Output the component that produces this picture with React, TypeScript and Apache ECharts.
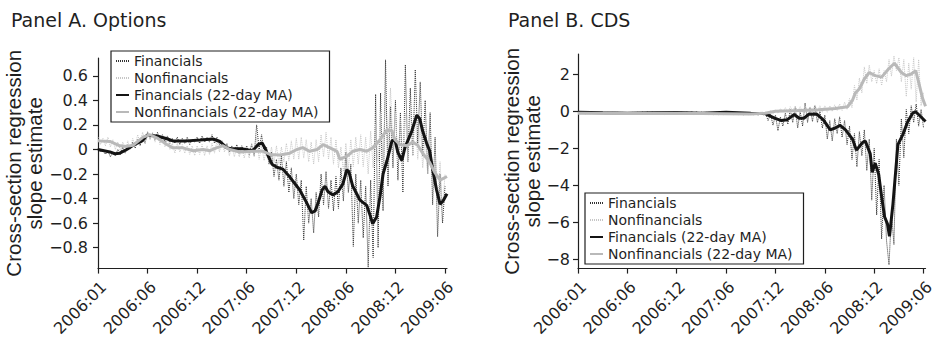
import React, { useEffect, useRef } from "react";
import * as echarts from "echarts";

// ---------- shared axis data ----------
const tickLabels = ["2006:01", "2006:06", "2006:12", "2007:06", "2007:12", "2008:06", "2008:12", "2009:06"];
const tickPositions = [0, 1, 2, 3, 4, 5, 6, 7]; // x in tick-interval units
const xMax = 7.04;
const rawStep = 0.05; // sampling step of the raw (daily) series, in tick-interval units

const seriesNames = ["Financials", "Nonfinancials", "Financials (22-day MA)", "Nonfinancials (22-day MA)"];

// ---------- Panel A. Options ----------
const yTicksA = [-0.8, -0.6, -0.4, -0.2, 0, 0.2, 0.4, 0.6];

const finA_MA: [number, number][] = [
  [0, 0], [0.24, -0.02], [0.34, -0.035], [0.44, -0.03], [0.58, 0], [0.71, 0.035], [0.89, 0.07], [0.99, 0.115],
  [1.19, 0.11], [1.39, 0.087], [1.51, 0.07], [1.79, 0.07], [2.06, 0.077], [2.32, 0.085], [2.46, 0.065], [2.6, 0.013],
  [2.72, 0.005], [2.92, 0.005], [3.12, -0.01], [3.23, 0.04], [3.31, 0.053], [3.37, 0.01], [3.43, -0.05], [3.51, -0.12],
  [3.61, -0.145], [3.73, -0.16], [3.87, -0.225], [4.07, -0.33], [4.21, -0.435], [4.31, -0.515], [4.38, -0.5],
  [4.44, -0.435], [4.52, -0.33], [4.58, -0.3], [4.64, -0.345], [4.74, -0.37], [4.84, -0.345], [4.94, -0.28],
  [5.02, -0.165], [5.06, -0.18], [5.14, -0.3], [5.28, -0.41], [5.42, -0.455], [5.48, -0.525], [5.54, -0.605],
  [5.62, -0.55], [5.69, -0.38], [5.75, -0.2], [5.83, -0.09], [5.93, 0.07], [5.99, 0.08], [6.05, -0.025],
  [6.13, -0.09], [6.19, 0.013], [6.33, 0.15], [6.43, 0.28], [6.49, 0.25], [6.55, 0.15], [6.63, 0.05],
  [6.69, -0.01], [6.75, -0.16], [6.83, -0.33], [6.9, -0.445], [6.96, -0.42], [7.04, -0.36],
];

const nonA_MA: [number, number][] = [
  [0, 0.07], [0.24, 0.065], [0.44, 0.03], [0.58, 0.025], [0.71, 0.035], [0.91, 0.1], [1.05, 0.12], [1.21, 0.09],
  [1.39, 0.04], [1.51, 0.013], [1.71, 0.013], [1.92, -0.01], [2.12, 0], [2.26, -0.01], [2.4, 0.015], [2.52, 0.03],
  [2.66, 0], [2.86, -0.02], [3.12, -0.015], [3.33, -0.015], [3.47, -0.04], [3.67, -0.045], [3.87, -0.03],
  [4.01, 0], [4.13, 0.015], [4.27, -0.015], [4.42, 0], [4.54, 0.04], [4.68, 0.013], [4.82, -0.015], [4.88, -0.08],
  [5.02, -0.055], [5.14, -0.015], [5.28, 0], [5.42, -0.015], [5.54, 0.013], [5.69, 0.08], [5.83, 0.16],
  [5.93, 0.15], [5.99, 0.08], [6.09, 0.04], [6.23, 0.03], [6.35, 0.06], [6.45, 0.035], [6.55, -0.03],
  [6.69, -0.105], [6.79, -0.185], [6.9, -0.25], [7.04, -0.22],
];

const finA_raw = [
  0.01, -0.02, 0.0, -0.04, -0.01, -0.06, -0.02, -0.05, 0.0, -0.04,
  0.02, -0.03, 0.04, 0.0, 0.06, 0.01, 0.08, 0.03, 0.1, 0.05,
  0.14, 0.09, 0.13, 0.08, 0.14, 0.07, 0.12, 0.06, 0.11, 0.05,
  0.09, 0.05, 0.1, 0.04, 0.09, 0.05, 0.1, 0.04, 0.08, 0.06,
  0.1, 0.05, 0.11, 0.06, 0.1, 0.06, 0.12, 0.05, 0.1, 0.04,
  0.07, 0.01, 0.05, -0.02, 0.03, -0.02, 0.04, -0.03, 0.03, -0.02,
  0.03, -0.04, 0.04, -0.05, 0.2, 0.0, 0.12, -0.03, 0.02, -0.12,
  -0.02, -0.22, -0.08, -0.25, -0.05, -0.3, -0.1, -0.35, -0.15, -0.4,
  -0.2, -0.45, -0.25, -0.74, -0.3, -0.6, -0.4, -0.68, -0.35, -0.55,
  -0.2, -0.45, -0.18, -0.48, -0.25, -0.5, -0.22, -0.48, -0.15, -0.42,
  -0.02, -0.35, -0.12, -0.79, -0.2, -0.6, -0.25, -0.72, -0.3, -0.96,
  -0.25, -0.88, 0.45, -0.8, 0.46, -0.5, 0.73, -0.3, 0.35, -0.15,
  0.4, -0.25, 0.3, -0.35, 0.69, -0.1, 0.5, -0.05, 0.65, 0.05,
  0.55, -0.05, 0.4, -0.2, 0.3, -0.45, 0.1, -0.71, -0.2, -0.6,
  -0.3,
];

const nonA_raw = [
  0.1, 0.04, 0.09, 0.03, 0.1, 0.02, 0.08, 0.0, 0.06, -0.01,
  0.06, -0.02, 0.07, 0.0, 0.09, 0.03, 0.12, 0.05, 0.14, 0.06,
  0.15, 0.08, 0.14, 0.06, 0.13, 0.04, 0.11, 0.02, 0.09, 0.0,
  0.05, -0.03, 0.05, -0.02, 0.04, -0.03, 0.03, -0.04, 0.03, -0.05,
  0.03, -0.04, 0.04, -0.05, 0.03, -0.04, 0.05, -0.03, 0.07, -0.02,
  0.07, -0.02, 0.04, -0.05, 0.03, -0.06, 0.02, -0.06, 0.02, -0.07,
  0.02, -0.07, 0.05, -0.06, 0.1, -0.08, 0.03, -0.09, 0.01, -0.1,
  0.02, -0.11, 0.03, -0.12, 0.02, -0.1, 0.05, -0.09, 0.07, -0.08,
  0.09, -0.08, 0.1, -0.07, 0.08, -0.1, 0.06, -0.12, 0.08, -0.1,
  0.12, -0.06, 0.14, -0.08, 0.1, -0.12, 0.08, -0.15, 0.02, -0.18,
  0.05, -0.16, 0.08, -0.14, 0.1, -0.12, 0.12, -0.14, 0.1, -0.2,
  0.15, -0.15, 0.2, -0.1, 0.3, -0.08, 0.45, 0.0, 0.5, 0.02,
  0.3, -0.1, 0.25, -0.12, 0.3, -0.1, 0.35, -0.05, 0.28, -0.08,
  0.2, -0.15, 0.1, -0.2, 0.05, -0.3, -0.05, -0.45, -0.1, -0.5,
  -0.2,
];

// ---------- Panel B. CDS ----------
const yTicksB = [-8, -6, -4, -2, 0, 2];

const finB_MA: [number, number][] = [
  [0, -0.05], [0.5, -0.08], [1.0, -0.1], [1.5, -0.08], [2.0, -0.06], [2.5, -0.1], [3.0, -0.05], [3.5, -0.1],
  [3.79, -0.12], [3.98, -0.37], [4.12, -0.5], [4.24, -0.45], [4.38, -0.17], [4.48, -0.37], [4.58, -0.37],
  [4.67, -0.16], [4.83, -0.14], [4.97, -0.46], [5.11, -1.0], [5.21, -0.9], [5.31, -0.76], [5.42, -1.0],
  [5.56, -1.5], [5.64, -2.1], [5.76, -1.7], [5.82, -1.6], [5.92, -2.3], [5.96, -3.3], [6.02, -2.8],
  [6.09, -3.4], [6.15, -4.6], [6.21, -5.7], [6.27, -6.1], [6.31, -6.76], [6.38, -5.0], [6.48, -1.8],
  [6.58, -1.26], [6.68, -0.55], [6.78, -0.1], [6.84, -0.02], [6.94, -0.28], [7.04, -0.55],
];

const nonB_MA: [number, number][] = [
  [0, -0.1], [1, -0.12], [2, -0.1], [3, -0.13], [3.5, -0.15], [3.79, -0.1], [4.0, 0.0], [4.5, 0.05],
  [4.87, 0.08], [5.21, 0.15], [5.46, 0.25], [5.56, 0.6], [5.62, 1.0], [5.7, 1.22], [5.8, 1.75], [5.9, 2.1],
  [6.02, 1.93], [6.15, 1.85], [6.29, 2.29], [6.41, 2.6], [6.55, 2.1], [6.65, 1.93], [6.75, 2.02], [6.84, 2.2],
  [6.9, 1.58], [6.98, 0.7], [7.04, 0.27],
];

const finB_raw = [
  -0.02, -0.1, -0.04, -0.12, -0.05, -0.11, -0.03, -0.12, -0.06, -0.13,
  -0.05, -0.14, -0.06, -0.13, -0.05, -0.12, -0.04, -0.13, -0.06, -0.14,
  -0.07, -0.15, -0.06, -0.14, -0.05, -0.13, -0.03, -0.11, -0.02, -0.1,
  -0.03, -0.11, -0.04, -0.12, -0.05, -0.13, -0.06, -0.15, -0.07, -0.16,
  -0.05, -0.14, -0.03, -0.12, -0.02, -0.1, -0.01, -0.1, -0.02, -0.11,
  -0.04, -0.14, -0.06, -0.16, -0.07, -0.15, -0.05, -0.13, -0.03, -0.12,
  -0.02, -0.1, -0.04, -0.13, -0.06, -0.15, -0.08, -0.18, -0.07, -0.2,
  -0.05, -0.18, -0.06, -0.22, -0.04, -0.2, -0.1, -0.5, -0.15, -0.75,
  -0.2, -1.05, -0.3, -0.8, -0.1, -0.7, 0.1, -0.6, 0.2, -0.9,
  0.0, -0.8, 0.45, -0.6, 0.2, -0.55, 0.3, -0.6, 0.0, -0.9,
  -0.2, -1.5, -0.5, -1.6, -0.4, -1.2, -0.3, -1.4, -0.5, -1.8,
  -0.8, -2.6, -1.2, -3.0, -1.1, -2.4, -1.0, -3.2, -1.5, -4.8,
  -2.0, -5.6, -2.6, -6.9, -4.0, -7.0, -8.3, -5.5, -7.2, -1.5,
  -4.0, -0.4, -2.5, 0.1, -1.2, 0.3, -0.6, 0.4, -0.8, 0.1,
  -0.9,
];

const nonB_raw = [
  -0.06, -0.13, -0.07, -0.14, -0.08, -0.15, -0.07, -0.13, -0.06, -0.14,
  -0.08, -0.15, -0.09, -0.16, -0.08, -0.15, -0.07, -0.14, -0.06, -0.13,
  -0.06, -0.14, -0.07, -0.15, -0.08, -0.16, -0.09, -0.15, -0.08, -0.14,
  -0.07, -0.15, -0.09, -0.17, -0.1, -0.18, -0.11, -0.17, -0.09, -0.16,
  -0.08, -0.15, -0.09, -0.17, -0.1, -0.18, -0.12, -0.19, -0.11, -0.18,
  -0.09, -0.17, -0.1, -0.18, -0.11, -0.19, -0.12, -0.2, -0.11, -0.19,
  -0.1, -0.18, -0.12, -0.2, -0.11, -0.19, -0.12, -0.21, -0.1, -0.2,
  -0.08, -0.18, -0.07, -0.16, -0.05, -0.14, -0.05, -0.2, 0.05, -0.15,
  0.1, -0.1, 0.15, -0.05, 0.2, -0.05, 0.25, 0.0, 0.3, 0.0,
  0.25, -0.05, 0.3, 0.0, 0.25, -0.05, 0.35, 0.0, 0.3, -0.05,
  0.3, -0.05, 0.3, 0.0, 0.35, 0.05, 0.4, 0.05, 0.5, 0.1,
  0.7, 0.2, 1.4, 0.6, 1.8, 1.0, 2.4, 1.5, 2.5, 1.6,
  2.2, 1.5, 2.3, 1.4, 2.2, 1.6, 2.8, 1.9, 3.0, 2.2,
  2.9, 1.6, 2.8, 0.8, 2.6, 1.2, 2.9, 0.5, 2.8, 0.3,
  1.0,
];

// ---------- styling ----------
const FONT = "DejaVu Sans";
const INK = "#1f1f1f";
const FIN_RAW = "#333333";
const NON_RAW = "#c6c6c6";
const FIN_MA = "#141414";
const NON_MA = "#b9b9b9";

const rawPairs = (vals: number[]): [number, number][] =>
  vals.map((v, i) => [Math.round(i * rawStep * 100) / 100, v]);

const fmtY = (v: number) => {
  if (Math.abs(v) < 1e-9) return "0";
  const s = String(Math.round(Math.abs(v) * 100) / 100);
  return (v < 0 ? "\u2212" : "") + s;
};

function xAxisFor(gridIndex: number) {
  return {
    type: "value",
    gridIndex,
    min: 0,
    max: xMax,
    axisLine: { show: true, onZero: false, lineStyle: { color: INK, width: 1.2 } },
    axisTick: { show: true, customValues: tickPositions, length: 5, lineStyle: { color: INK, width: 1.2 } },
    axisLabel: {
      customValues: tickPositions,
      rotate: 45,
      margin: 10,
      verticalAlign: "top",
      fontFamily: FONT,
      fontSize: 16,
      color: INK,
      formatter: (v: number) => tickLabels[Math.round(v)] ?? "",
    },
    splitLine: { show: false },
  };
}

function yAxisFor(gridIndex: number, min: number, max: number, ticks: number[], nameGap: number, margin: number) {
  return {
    type: "value",
    gridIndex,
    min,
    max,
    axisLine: { show: true, onZero: false, lineStyle: { color: INK, width: 1.2 } },
    axisTick: { show: true, customValues: ticks, length: 5, lineStyle: { color: INK, width: 1.2 } },
    axisLabel: { customValues: ticks, margin, fontFamily: FONT, fontSize: 16, color: INK, formatter: fmtY },
    splitLine: { show: false },
    name: "Cross-section regression\nslope estimate",
    nameLocation: "middle",
    nameRotate: 90,
    nameGap,
    nameTextStyle: { fontFamily: "Liberation Sans", fontSize: 20.5, lineHeight: 21, color: INK },
  };
}

function panelSeries(axisIndex: number, finRaw: number[], nonRaw: number[], finMA: [number, number][], nonMA: [number, number][]) {
  const base = { type: "line", xAxisIndex: axisIndex, yAxisIndex: axisIndex, symbol: "none", silent: true, emphasis: { disabled: true } };
  return [
    { ...base, name: seriesNames[0], data: rawPairs(finRaw), color: FIN_RAW, lineStyle: { color: FIN_RAW, width: 1, type: [1, 1] }, z: 2 },
    { ...base, name: seriesNames[1], data: rawPairs(nonRaw), color: NON_RAW, lineStyle: { color: NON_RAW, width: 1, type: [1, 1] }, z: 2 },
    { ...base, name: seriesNames[2], data: finMA, color: FIN_MA, lineStyle: { color: FIN_MA, width: 3 }, z: 3 },
    { ...base, name: seriesNames[3], data: nonMA, color: NON_MA, lineStyle: { color: NON_MA, width: 3 }, z: 3 },
  ];
}

const legendCommon = {
  orient: "vertical",
  data: seriesNames,
  itemWidth: 13,
  itemHeight: 14,
  itemGap: 3,
  padding: [3, 11, 3, 4],
  borderColor: INK,
  borderWidth: 1.2,
  backgroundColor: "#ffffff",
  selectedMode: false,
  itemStyle: { opacity: 0, color: "rgba(0,0,0,0)", borderWidth: 0 },
  textStyle: { fontFamily: FONT, fontSize: 14, color: INK },
};

export default function App() {
  const ref = useRef<HTMLDivElement>(null);

  useEffect(() => {
    if (!ref.current) return;
    const chart = echarts.init(ref.current, null, { renderer: "svg" });
    chart.setOption({
      animation: false,
      backgroundColor: "#ffffff",
      title: [
        { text: "Panel A. Options", left: 11, top: 10, padding: 0, textStyle: { fontFamily: FONT, fontSize: 19, fontWeight: "normal", color: INK } },
        { text: "Panel B. CDS", left: 508, top: 10, padding: 0, textStyle: { fontFamily: FONT, fontSize: 19, fontWeight: "normal", color: INK } },
      ],
      grid: [
        { left: 98, top: 58, width: 349, height: 216, containLabel: false },
        { left: 578, top: 54, width: 357, height: 219, containLabel: false },
      ],
      xAxis: [xAxisFor(0), xAxisFor(1)],
      yAxis: [yAxisFor(0, -0.97, 0.745, yTicksA, 51, 10), yAxisFor(1, -8.5, 3.1, yTicksB, 32, 8)],
      legend: [
        { ...legendCommon, left: 111, top: 51 },
        { ...legendCommon, left: 585, top: 193 },
      ],
      series: [
        ...panelSeries(0, finA_raw, nonA_raw, finA_MA, nonA_MA),
        ...panelSeries(1, finB_raw, nonB_raw, finB_MA, nonB_MA),
      ],
    });
    return () => chart.dispose();
  }, []);

  return <div ref={ref} style={{ position: "fixed", left: 0, top: 0, width: 937, height: 339, background: "#fff" }} />;
}
